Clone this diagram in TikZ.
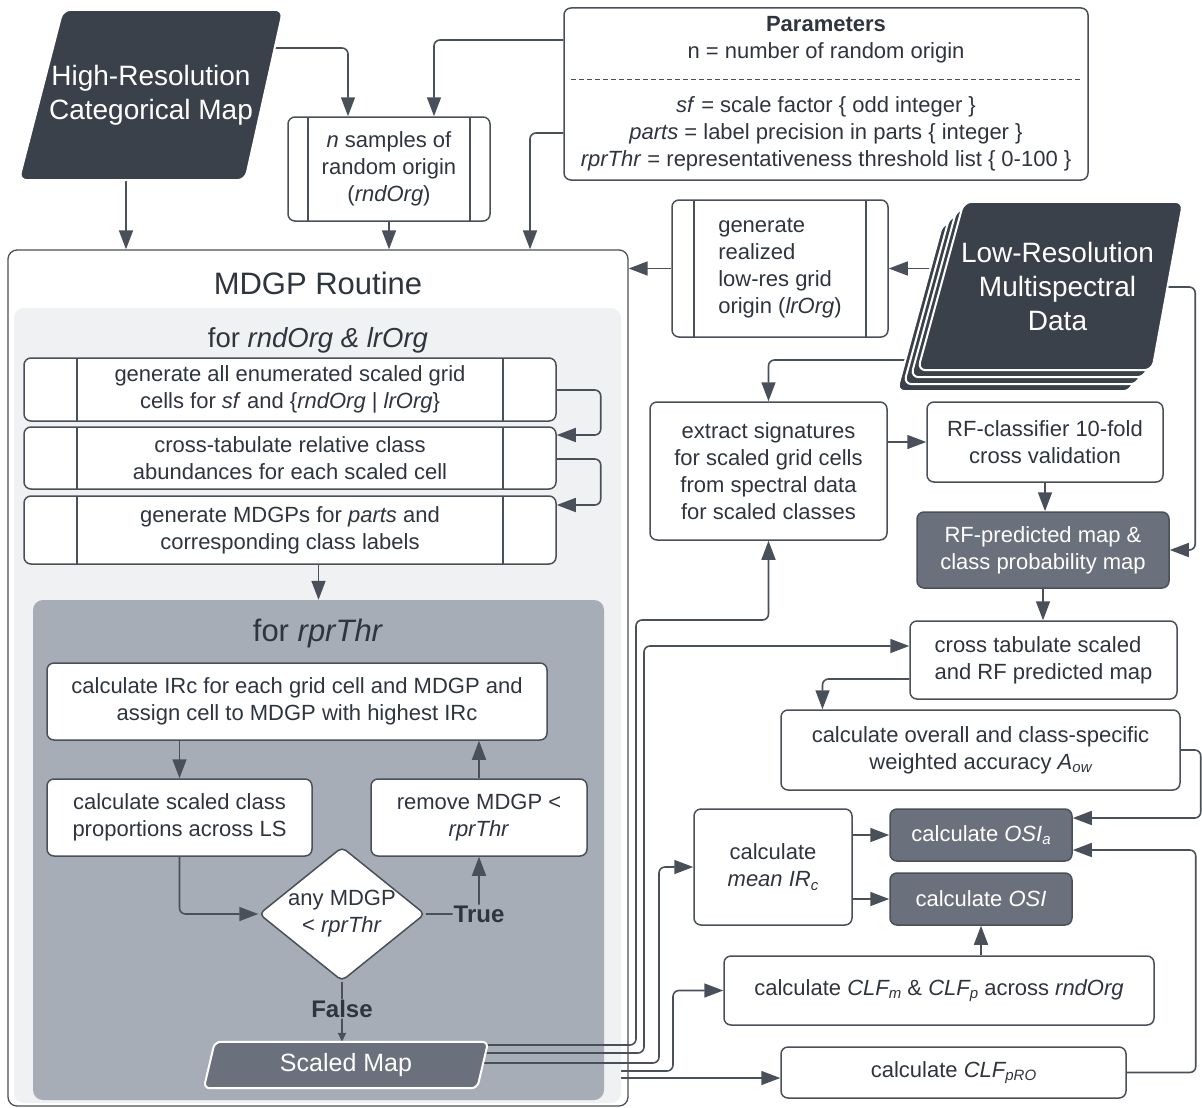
\documentclass[tikz,border=0pt]{standalone}
\usepackage{fontspec}
\setmainfont{Liberation Sans}
\usetikzlibrary{arrows.meta,shapes.geometric,calc}
\definecolor{ink}{HTML}{3A414B}
\definecolor{linec}{HTML}{4A5059}
\definecolor{txt}{HTML}{2F353E}
\definecolor{lightbg}{HTML}{F0F1F3}
\definecolor{midbg}{HTML}{A7ADB7}
\definecolor{darkbox}{HTML}{6B717C}
\pgfdeclarelayer{l0}\pgfdeclarelayer{l1}\pgfdeclarelayer{l2}\pgfdeclarelayer{l3}\pgfdeclarelayer{l4}
\pgfsetlayers{l0,l1,l2,l3,l4,main}
\newcommand\lowsub[1]{\raisebox{-0.3ex}{\fontsize{15}{15}\selectfont #1}}
% slanted data shape drawn on the frame of a named node: #1 node, #2 top-left inset, #3 bottom-right inset, #4 style
\newcommand\paragon[4]{\path[#4] ([xshift=#2]#1.north west) -- (#1.north east) -- ([xshift=-#3]#1.south east) -- (#1.south west) -- cycle;}
\begin{document}
\begin{tikzpicture}[x=1pt,y=-1pt,
  every node/.style={text=txt, font=\fontsize{22}{27}\selectfont},
  box/.style={draw=linec, line width=1.5pt, rounded corners=7pt, fill=white, align=center, inner sep=0pt},
  sz/.style 2 args={minimum width=#1pt, minimum height=#2pt},
  bars/.style={path picture={\draw[linec,line width=1.3pt] ([xshift=#1]path picture bounding box.north west) -- ([xshift=#1]path picture bounding box.south west) ([xshift=-#1]path picture bounding box.north east) -- ([xshift=-#1]path picture bounding box.south east);}},
  dkbox/.style={box, fill=darkbox, text=white},
  datatext/.style={inner sep=0pt, align=center, text=white, font=\fontsize{28}{34}\selectfont},
  datashape/.style={fill=ink, draw=white, line width=2pt, rounded corners=8pt},
  conn/.style={draw=linec, line width=1.6pt, rounded corners=6pt},
  arr/.style={conn, -{Triangle[length=19pt,width=14pt]}},
  lbl/.style={font=\fontsize{24}{24}\selectfont\bfseries, fill=midbg, inner sep=1pt, text=txt},
]
\useasboundingbox (0,0) rectangle (1202,1108);

% ---------- containers ----------
\begin{pgfonlayer}{l0}
\fill[white] (0,0) rectangle (1202,1108);
\node[box, line width=1.3pt, rounded corners=9pt, sz={620}{856}] (mdgp) at (318,678) {};
\end{pgfonlayer}
\begin{pgfonlayer}{l2}
\node[fill=lightbg, rounded corners=10pt, sz={607}{795}, inner sep=0pt] (loopA) at (317.5,705.5) {};
\node[fill=midbg, rounded corners=10pt, sz={571}{500}, inner sep=0pt] (loopB) at (318.5,850) {};
\end{pgfonlayer}

\node (tmdgp) at (318,283) {\fontsize{31}{31}\selectfont MDGP Routine};
\node (tloopA) at (318,340) {\fontsize{27.5}{28}\selectfont for \textit{rndOrg \& lrOrg}};
\node (tloopB) at (318,633) {\fontsize{31}{31}\selectfont for \textit{rprThr}};

% ---------- inputs ----------
\node[datatext, sz={264}{170}] (hires) at (151,95) {High-Resolution\\Categorical Map};
\node[box, bars=20pt, sz={202}{104}] (rnd) at (389,169) {\textit{n} samples of\\random origin\\(\textit{rndOrg})};
\node[box, sz={524}{172}] (params) at (826,94) {\textbf{Parameters}\\n = number of random origin\\[27pt]\textit{sf} = scale factor \{ odd integer \}\\\textit{parts} = label precision in parts \{ integer \}\\\textit{rprThr} = representativeness threshold list \{ 0-100 \}};
\draw[linec, line width=1pt, dash pattern=on 5pt off 3pt] (571,80) -- (1081,80);

% ---------- loop A ----------
\node[box, bars=53pt, sz={532}{63}] (f1) at (290,389.5) {generate all enumerated scaled grid\\cells for \textit{sf} and \{\textit{rndOrg} | \textit{lrOrg}\}};
\node[box, bars=53pt, sz={532}{62}] (f2) at (290,458) {cross-tabulate relative class\\abundances for each scaled cell};
\node[box, bars=53pt, sz={532}{68}] (f3) at (290,530) {generate MDGPs for \textit{parts} and\\corresponding class labels};

% ---------- loop B ----------
\node[box, sz={500}{77}] (g1) at (297,701.5) {calculate IRc for each grid cell and MDGP and\\assign cell to MDGP with highest IRc};
\node[box, sz={265}{77}] (g2) at (179.5,817.5) {calculate scaled class\\proportions across LS};
\node[box, sz={216}{77}] (g3) at (479,817.5) {remove MDGP <\\\textit{rprThr}};
\node[diamond, draw=linec, fill=white, line width=1.5pt, rounded corners=5pt, aspect=1.24, inner sep=0pt, sz={166}{134}, align=center] (dia) at (342,914) {any MDGP\\< \textit{rprThr}};
\node[datatext, sz={284}{46}, font=\fontsize{25}{25}\selectfont] (smap) at (346,1065) {Scaled Map};

% ---------- right side ----------
\node[box, bars=22pt, sz={216}{137}, align=left] (lrorg) at (780,268.5) {generate\\realized\\low-res grid\\origin (\textit{lrOrg})};
\node[datatext, sz={265}{168}] (lr3) at (1029.5,307) {};
\node[datatext, sz={265}{168}] (lr2) at (1036.5,300) {};
\node[datatext, sz={265}{168}] (lr1) at (1043.5,293) {};
\node[datatext, sz={265}{168}] (lowres) at (1050.5,286) {\hspace*{14pt}Low-Resolution\\\hspace*{14pt}Multispectral\\\hspace*{14pt}Data};
\node[box, sz={237}{138}] (extract) at (768.5,471) {extract signatures\\for scaled grid cells\\from spectral data\\for scaled classes};
\node[box, sz={236}{80}] (rfcls) at (1045,442) {RF-classifier 10-fold\\cross validation};
\node[dkbox, sz={252}{76}] (rfpred) at (1043,550) {RF-predicted map \&\\class probability map};
\node[box, sz={267}{78}, align=left] (crosstab) at (1043.5,660) {cross tabulate scaled\\and RF predicted map};
\node[box, sz={399}{80}] (overall) at (980.5,750) {calculate overall and class-specific\\weighted accuracy \textit{A\lowsub{ow}}};
\node[box, sz={158}{116}] (meanir) at (773,867) {calculate\\\textit{mean IR\lowsub{c}}};
\node[dkbox, sz={182}{52}] (osia) at (981,835) {calculate \textit{OSI\lowsub{a}}};
\node[dkbox, sz={182}{52}] (osi) at (981,899) {calculate \textit{OSI}};
\node[box, sz={430}{69}] (clf) at (939,990.5) {calculate \textit{CLF\lowsub{m}} \& \textit{CLF\lowsub{p}} across \textit{rndOrg}};
\node[box, sz={345}{51}] (clfpro) at (953.5,1072.5) {calculate \textit{CLF\lowsub{pRO}}};

% ---------- slanted data shapes (under their texts) ----------
\begin{pgfonlayer}{l4}
\paragon{hires}{44pt}{38pt}{datashape}
\paragon{lr3}{46pt}{31pt}{datashape}
\paragon{lr2}{46pt}{31pt}{datashape}
\paragon{lr1}{46pt}{31pt}{datashape}
\paragon{lowres}{46pt}{31pt}{datashape}
\paragon{smap}{11pt}{11pt}{datashape, fill=darkbox, rounded corners=6pt}
\end{pgfonlayer}

% ---------- connectors ----------
\begin{pgfonlayer}{l3}
\draw[arr] ([yshift=47pt]hires.center) -| ([xshift=-41pt]rnd.north);
\draw[arr] ([yshift=54pt]params.west) -| ([xshift=45pt]rnd.north);
\draw[arr] ([yshift=-39pt]params.west) -| ([xshift=212pt]mdgp.north);
\coordinate (hA) at ([xshift=-25pt]hires.south);
\draw[arr] (hA) -- (hA |- mdgp.north);
\draw[arr] (rnd.south) -- (rnd.south |- mdgp.north);
\draw[arr] (lrorg.west) -- (lrorg.west -| mdgp.east);
\draw[arr] (lrorg.east -| lr3.center) -- (lrorg.east);
\draw[arr] ([yshift=-1pt]lowres.center) -- ([xshift=12pt,yshift=-1pt]lowres.east) |- (rfpred.east);
\draw[arr] ([yshift=-53pt]lr3.center) -| (extract.north);

\draw[arr] ([yshift=-0.5pt]f1.east) -- ++(44,0) |- ([yshift=23pt]f2.east);
\draw[arr] ([yshift=-1pt]f2.east) -- ++(44,0) |- ([yshift=25pt]f3.east);
\draw[arr] (f3.south -| loopB.north) -- (loopB.north);

\draw[arr] (g2.north |- g1.south) -- (g2.north);
\draw[arr] (g2.south) |- (dia.west);
\draw[arr] (dia.east) -| node[lbl, pos=0.5] (lblT) {True} (g3.south);
\draw[arr] (g3.north) -- (g3.north |- g1.south);
\draw[conn, -{Triangle[length=9pt,width=8pt]}] (dia.south) -- node[lbl, pos=0.45] (lblF) {False} (dia.south |- smap.north);

\draw[arr] (rfcls.west -| extract.east) -- (rfcls.west);
\draw[arr] (rfcls.south) -- (rfcls.south |- rfpred.north);
\draw[arr] (rfpred.south) -- (rfpred.south |- crosstab.north);
\draw[arr] ([yshift=-19pt]crosstab.west) -| ([xshift=-158pt]overall.north);
\draw[arr] (overall.east) -- ++(20,0) |- ([yshift=17pt]osia.east);
\draw[arr] (meanir.east |- osia.west) -- (osia.west);
\draw[arr] (meanir.east |- osi.west) -- (osi.west);
\draw[arr] (osi.south |- clf.north) -- (osi.south);
\draw[arr] (clfpro.east) -- ++(69,0) |- ([yshift=-15pt]osia.east);

\draw[arr] ([yshift=20pt]smap.center) -| (636,620) -| (extract.south);
\draw[arr] ([yshift=12pt]smap.center) -| (644,646) -- ([yshift=14pt]crosstab.west);
\draw[arr] ([yshift=2pt]smap.center) -| (659,867) -- (meanir.west);
\end{pgfonlayer}
\begin{pgfonlayer}{l1}
\draw[arr] ([yshift=-6pt]smap.center) -| (673,990.5) -- (clf.west);
\draw[arr] ([yshift=-13pt]smap.center) coordinate (s5) -- (s5 -| clfpro.west);
\end{pgfonlayer}
\end{tikzpicture}
\end{document}
